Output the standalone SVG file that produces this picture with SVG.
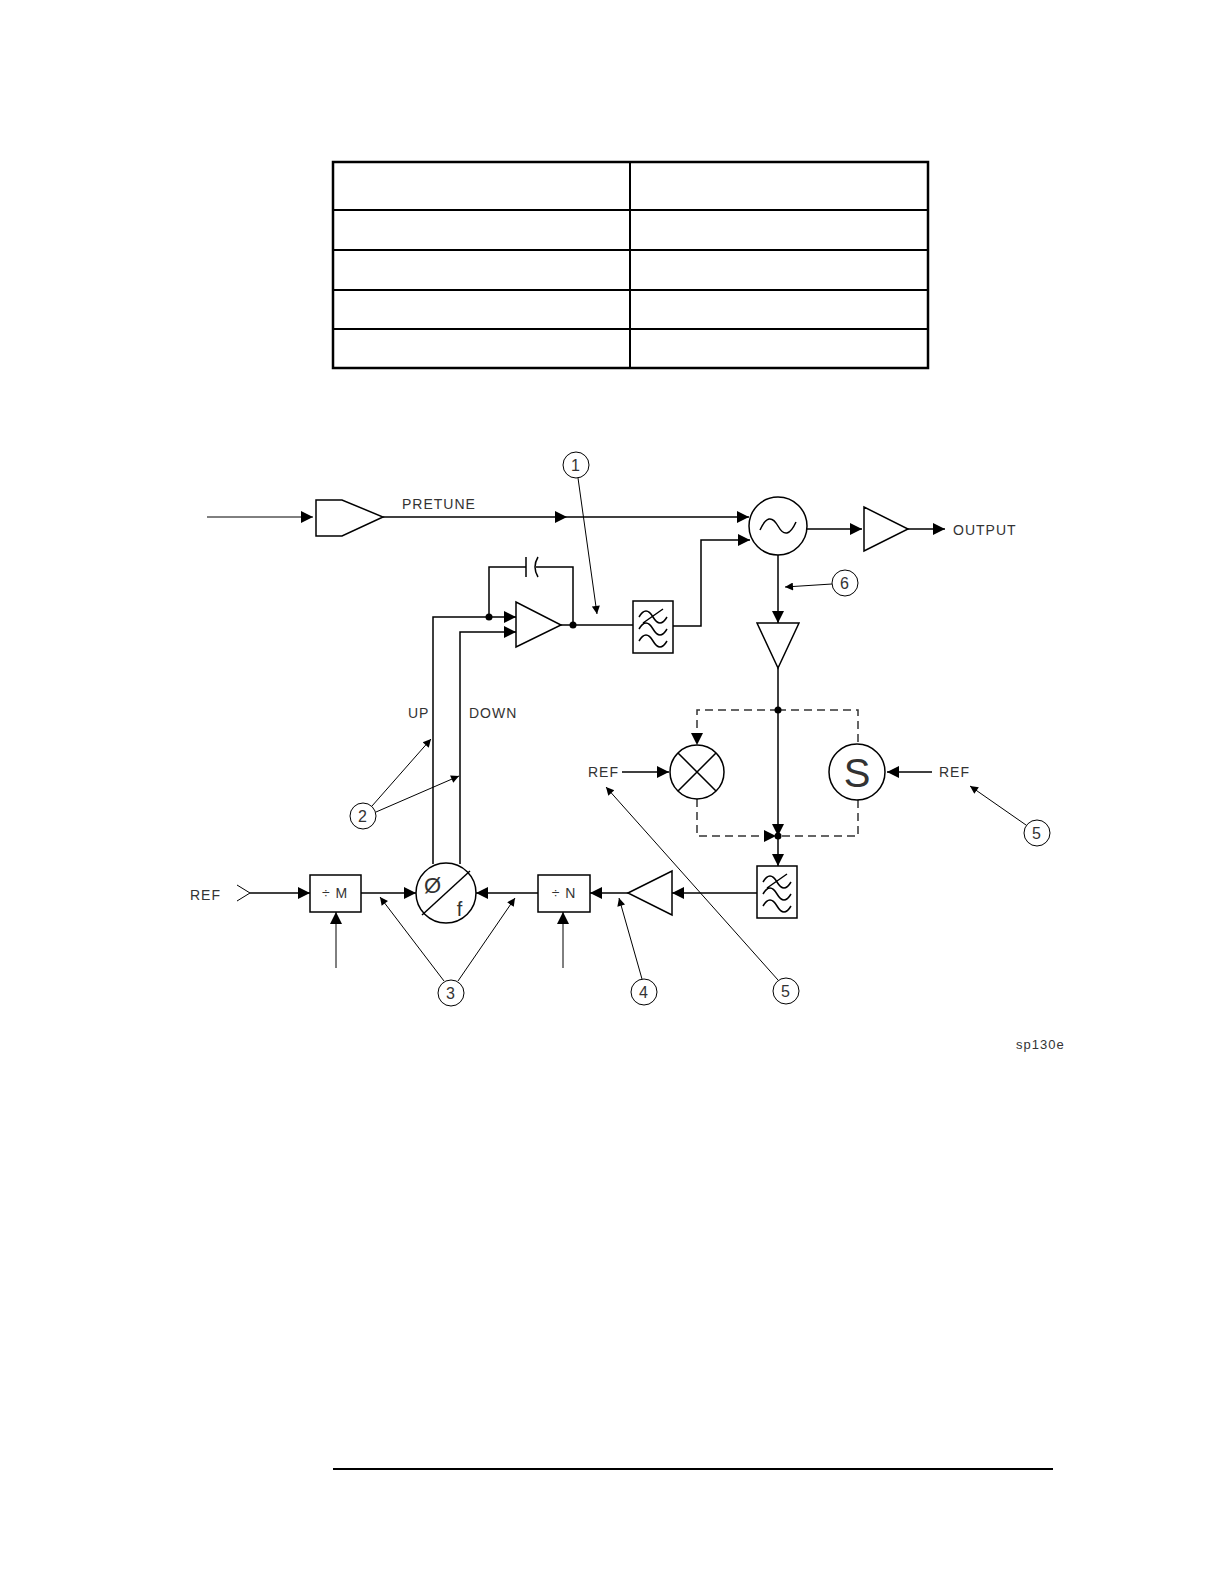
<svg xmlns="http://www.w3.org/2000/svg" width="1224" height="1582" viewBox="0 0 1224 1582">
<style>
.l{stroke:#000;stroke-width:1.5;fill:none}
.d{stroke:#333;stroke-width:1.5;fill:none;stroke-dasharray:8,5}
.t{stroke:#000;stroke-width:1;fill:none}
.w{fill:#fff;stroke:#000;stroke-width:1.5}
text{font-family:"Liberation Sans",Arial,sans-serif;font-size:14px;fill:#333;letter-spacing:1px}
.n{font-size:16px;text-anchor:middle}
</style>
<defs>
<marker id="a" viewBox="0 0 10 10" refX="10" refY="5" markerWidth="18" markerHeight="12" markerUnits="userSpaceOnUse" orient="auto"><path d="M0,0L10,5L0,10z" fill="#000"/></marker>
<marker id="s" viewBox="0 0 10 10" refX="10" refY="5" markerWidth="12" markerHeight="8" markerUnits="userSpaceOnUse" orient="auto"><path d="M0,0L10,5L0,10z" fill="#000"/></marker>
<g id="filt"><rect x="0" y="0" width="40" height="52" class="w"/><path class="l" d="M6,16q7,-12 14,0t14,0M6,28q7,-12 14,0t14,0M6,40q7,-12 14,0t14,0M10,22L30,8"/></g>
</defs>
<g id="table" stroke="#000" fill="none">
<rect x="333" y="162" width="595" height="206" stroke-width="2.5"/>
<path stroke-width="2" d="M630,162V368M333,210H928M333,250H928M333,290H928M333,329H928"/>
</g>
<g id="connectors">
<path class="t" d="M207,517H313" marker-end="url(#a)"/>
<path class="l" d="M383,517H567" marker-end="url(#a)"/>
<path class="l" d="M567,517H749" marker-end="url(#a)"/>
<path class="l" d="M673,626H701V540H750" marker-end="url(#a)"/>
<path class="l" d="M807,529H862" marker-end="url(#a)"/>
<path class="l" d="M908,529H945" marker-end="url(#a)"/>
<path class="l" d="M778,553V623" marker-end="url(#a)"/>
<path class="l" d="M778,668V836" marker-end="url(#a)"/>
<path class="l" d="M778,836V866" marker-end="url(#a)"/>
<path class="d" d="M778,710H697V745" marker-end="url(#a)"/>
<path class="d" d="M778,710H858V744M858,800V836H780"/>
<path class="d" d="M697,799V836H776" marker-end="url(#a)"/>
<path class="l" d="M622,772H669" marker-end="url(#a)"/>
<path class="l" d="M932,772H887" marker-end="url(#a)"/>
<path class="l" d="M757,893H672" marker-end="url(#a)"/>
<path class="l" d="M628,893H590" marker-end="url(#a)"/>
<path class="l" d="M538,893H476" marker-end="url(#a)"/>
<path class="l" d="M361,893H416" marker-end="url(#a)"/>
<path class="l" d="M250,893H310" marker-end="url(#a)"/>
<path class="t" d="M237,885L250,893L237,901"/>
<path class="t" d="M336,968V912" marker-end="url(#a)"/>
<path class="t" d="M563,968V912" marker-end="url(#a)"/>
<path class="l" d="M433,864V617H516" marker-end="url(#a)"/>
<path class="l" d="M460,864V632H516" marker-end="url(#a)"/>
<path class="l" d="M561,625H633"/>
<path class="l" d="M489,617V567H526M536,567H573V625M526,557V577M538,557q-6,10 0,20"/>
<circle cx="489" cy="617" r="3.5"/><circle cx="573" cy="625" r="3.5"/>
<circle cx="778" cy="710" r="3.5"/><circle cx="778" cy="836" r="3.5"/>
</g>
<g id="amp1"><path class="w" d="M316,500H342L383,517L342,536H316Z"/></g>
<text x="402" y="509">PRETUNE</text>
<g id="vco"><circle cx="778" cy="526" r="29" class="w"/><path class="l" d="M760,530q9,-20 18,-4t18,-4"/></g>
<g id="amp2"><path class="w" d="M864,507V551L908,529Z"/></g>
<text x="953" y="535">OUTPUT</text>
<g id="amp3"><path class="w" d="M757,623H799L778,668Z"/></g>
<g id="integrator"><path class="w" d="M516,602V647L561,625Z"/></g>
<g id="filter1"><use href="#filt" x="633" y="601"/></g>
<g id="filter2"><use href="#filt" x="757" y="866"/></g>
<g id="mixer"><circle cx="697" cy="772" r="27" class="w"/><path class="l" d="M678,753L716,791M716,753L678,791"/></g>
<g id="sampler"><circle cx="857" cy="772" r="28" class="w"/><text x="857" y="787" style="font-size:40px;text-anchor:middle;letter-spacing:0" fill="#555">S</text></g>
<text x="588" y="777">REF</text>
<text x="939" y="777">REF</text>
<g id="amp4"><path class="w" d="M628,893L672,871V915Z"/></g>
<g id="divN"><rect x="538" y="875" width="52" height="37" class="w"/><text x="564" y="898" text-anchor="middle">÷ N</text></g>
<g id="divM"><rect x="310" y="875" width="51" height="37" class="w"/><text x="335" y="898" text-anchor="middle">÷ M</text></g>
<g id="pfd"><circle cx="446" cy="893" r="30" class="w"/><path class="l" d="M422,915L470,871"/><text x="433" y="893" style="font-size:22px;text-anchor:middle">Ø</text><text x="460" y="916" style="font-size:20px;text-anchor:middle">f</text></g>
<text x="190" y="900">REF</text>
<text x="408" y="718">UP</text>
<text x="469" y="718">DOWN</text>
<g id="callouts">
<circle cx="576" cy="465" r="13" class="t"/><text x="576" y="471" class="n">1</text>
<path class="t" d="M578,478L597,614" marker-end="url(#s)"/>
<circle cx="363" cy="816" r="13" class="t"/><text x="363" y="822" class="n">2</text>
<path class="t" d="M372,806L431,739" marker-end="url(#s)"/>
<path class="t" d="M376,812L459,776" marker-end="url(#s)"/>
<circle cx="451" cy="993" r="13" class="t"/><text x="451" y="999" class="n">3</text>
<path class="t" d="M444,981L380,897" marker-end="url(#s)"/>
<path class="t" d="M458,981L515,898" marker-end="url(#s)"/>
<circle cx="644" cy="992" r="13" class="t"/><text x="644" y="998" class="n">4</text>
<path class="t" d="M642,979L619,898" marker-end="url(#s)"/>
<circle cx="786" cy="991" r="13" class="t"/><text x="786" y="997" class="n">5</text>
<path class="t" d="M778,980L606,787" marker-end="url(#s)"/>
<circle cx="1037" cy="833" r="13" class="t"/><text x="1037" y="839" class="n">5</text>
<path class="t" d="M1026,825L970,786" marker-end="url(#s)"/>
<circle cx="845" cy="583" r="13" class="t"/><text x="845" y="589" class="n">6</text>
<path class="t" d="M832,584L785,587" marker-end="url(#s)"/>
</g>
<text x="1016" y="1049" style="font-size:13px">sp130e</text>
<path d="M333,1469H1053" stroke="#000" stroke-width="2"/>
</svg>
